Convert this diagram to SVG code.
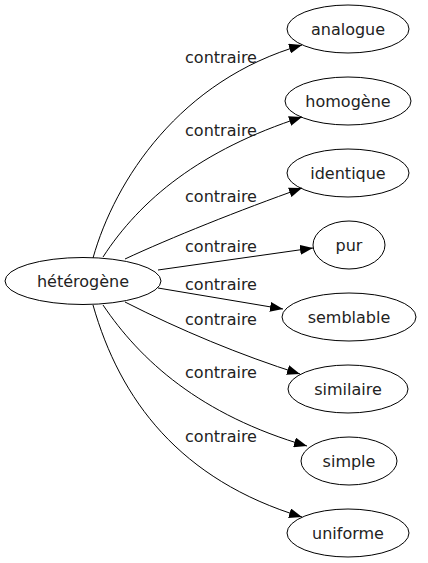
<svg xmlns="http://www.w3.org/2000/svg" width="428" height="563" viewBox="0 0 428 563">
<style>
.n ellipse{fill:none;stroke:#000;stroke-width:1}
text{font-family:"DejaVu Sans",sans-serif;font-size:16px;fill:#222;text-anchor:middle}
.e path{fill:none;stroke:#000;stroke-width:1;marker-end:url(#ah)}
</style>
<defs>
<marker id="ah" markerUnits="userSpaceOnUse" markerWidth="14" markerHeight="10" refX="13" refY="5" orient="auto">
<path d="M0,0 L13,5 L0,10 Z" fill="#000"/>
</marker>
</defs>
<rect width="428" height="563" fill="#fff"/>
<g class="e" id="edges">
<path d="M93,258 C115,180 180,80 302,45"/>
<path d="M103,257 C140,200 200,150 302,117"/>
<path d="M125,259 C170,238 240,210 302,188"/>
<path d="M158,270 L313,248"/>
<path d="M158,288 L283,309"/>
<path d="M125,302 C180,330 240,355 300,374"/>
<path d="M103,305 C140,360 200,415 307,446"/>
<path d="M93,305 C120,400 180,480 302,517"/>
<text x="221" y="63">contraire</text>
<text x="221" y="136">contraire</text>
<text x="221" y="202">contraire</text>
<text x="221" y="252">contraire</text>
<text x="221" y="290">contraire</text>
<text x="221" y="325">contraire</text>
<text x="221" y="378">contraire</text>
<text x="221" y="442">contraire</text>
</g>
<g class="n" id="n0"><ellipse cx="83" cy="281" rx="78" ry="23.5"/><text x="83" y="287">hétérogène</text></g>
<g class="n" id="n1"><ellipse cx="348" cy="29" rx="61" ry="24"/><text x="348" y="35">analogue</text></g>
<g class="n" id="n2"><ellipse cx="348" cy="101" rx="63" ry="24"/><text x="348" y="107">homogène</text></g>
<g class="n" id="n3"><ellipse cx="348" cy="173" rx="61" ry="24"/><text x="348" y="179">identique</text></g>
<g class="n" id="n4"><ellipse cx="349" cy="245" rx="36" ry="24"/><text x="349" y="251">pur</text></g>
<g class="n" id="n5"><ellipse cx="349" cy="317" rx="67" ry="24"/><text x="349" y="323">semblable</text></g>
<g class="n" id="n6"><ellipse cx="348" cy="389" rx="60" ry="24"/><text x="348" y="395">similaire</text></g>
<g class="n" id="n7"><ellipse cx="349" cy="461" rx="48" ry="24"/><text x="349" y="467">simple</text></g>
<g class="n" id="n8"><ellipse cx="348" cy="533" rx="61" ry="24"/><text x="348" y="539">uniforme</text></g>
</svg>
